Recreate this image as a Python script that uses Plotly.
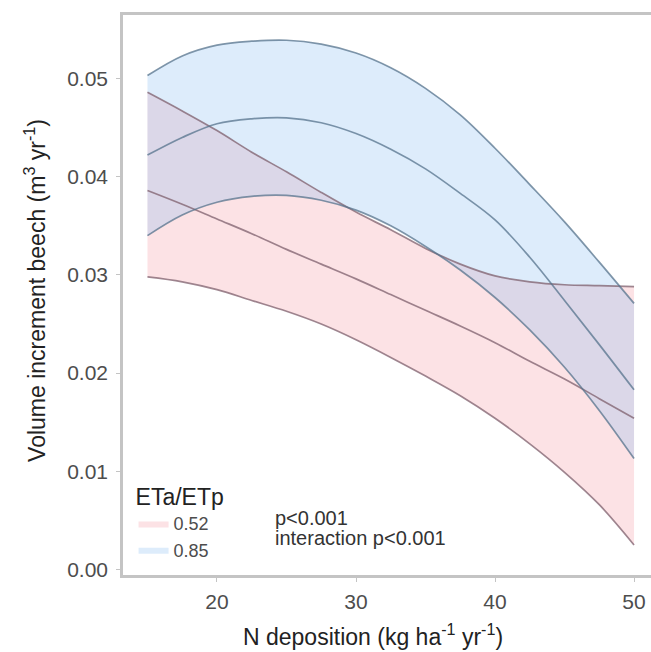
import plotly.graph_objects as go

# ---- data ----
n_dep = [15, 17.5, 20, 22.5, 25, 27.5, 30, 32.5, 35, 37.5, 40, 42.5, 45, 47.5, 50]

# ETa/ETp = 0.52 (red)
red_mean = [0.0386, 0.0372, 0.0357, 0.0342, 0.0326, 0.0311, 0.0296, 0.0280,
            0.0264, 0.0248, 0.0231, 0.0212, 0.0194, 0.0174, 0.0154]
red_lower = [0.0298, 0.0293, 0.0285, 0.0274, 0.0263, 0.0250, 0.0234, 0.0216,
             0.0197, 0.0177, 0.0154, 0.0128, 0.0099, 0.0066, 0.0025]
red_upper = [0.0486, 0.0467, 0.0447, 0.0425, 0.0405, 0.0384, 0.0364, 0.0346,
             0.0327, 0.0311, 0.0299, 0.0293, 0.0290, 0.0289, 0.0288]

# ETa/ETp = 0.85 (blue)
blue_mean = [0.0422, 0.0440, 0.0454, 0.0459, 0.0460, 0.0455, 0.0444, 0.0428,
             0.0408, 0.0383, 0.0356, 0.0318, 0.0274, 0.0229, 0.0183]
blue_lower = [0.0340, 0.0361, 0.0374, 0.0380, 0.0381, 0.0376, 0.0366, 0.0350,
              0.0329, 0.0305, 0.0277, 0.0244, 0.0206, 0.0162, 0.0113]
blue_upper = [0.0503, 0.0523, 0.0534, 0.0538, 0.0539, 0.0535, 0.0526, 0.0511,
              0.0490, 0.0463, 0.0429, 0.0392, 0.0354, 0.0313, 0.0271]

group_labels = ["0.52", "0.85"]
y_ticks = [0.00, 0.01, 0.02, 0.03, 0.04, 0.05]
x_ticks = [20, 30, 40, 50]

FONT = "Liberation Sans, Arial, sans-serif"
red_fill = "rgba(240,120,130,0.21)"
blue_fill = "rgba(130,185,240,0.27)"
red_line = "rgba(125,95,108,0.75)"
blue_line = "rgba(85,115,140,0.75)"

fig = go.Figure()

# ribbons (red first, blue on top)
for lo, up, fc, name in [(red_lower, red_upper, red_fill, group_labels[0]),
                         (blue_lower, blue_upper, blue_fill, group_labels[1])]:
    fig.add_trace(go.Scatter(x=n_dep, y=lo, mode="lines", line=dict(width=0, shape="spline"),
                             showlegend=False, hoverinfo="skip"))
    fig.add_trace(go.Scatter(x=n_dep, y=up, mode="lines", line=dict(width=0, shape="spline"),
                             fill="tonexty", fillcolor=fc, name=name,
                             showlegend=True))

# lines
for ys, lc in [(red_lower, red_line), (red_upper, red_line), (red_mean, red_line),
               (blue_lower, blue_line), (blue_upper, blue_line), (blue_mean, blue_line)]:
    fig.add_trace(go.Scatter(x=n_dep, y=ys, mode="lines",
                             line=dict(color=lc, width=1.7, shape="spline"),
                             showlegend=False))

axis_col = "#c4c4c4"
fig.update_layout(
    width=651, height=652,
    margin=dict(l=123, r=0, t=15, b=77),
    paper_bgcolor="white", plot_bgcolor="white",
    font=dict(family=FONT, color="#4d4d4d", size=20),
    xaxis=dict(range=[13.24, 51.22], tickvals=x_ticks, showgrid=False, zeroline=False,
               showline=True, linecolor=axis_col, linewidth=2.5, mirror=True,
               ticks="outside", ticklen=4, tickcolor=axis_col,
               tickfont=dict(size=21, color="#4d4d4d"), ticklabelstandoff=2),
    yaxis=dict(range=[-0.00056, 0.05647], tickvals=y_ticks, tickformat=".2f",
               showgrid=False, zeroline=False,
               showline=True, linecolor=axis_col, linewidth=2.5,
               ticks="outside", ticklen=4, tickcolor=axis_col,
               tickfont=dict(size=21, color="#4d4d4d"), ticklabelstandoff=4),
    legend=dict(x=0.02, y=0.178, xanchor="left", yanchor="top", traceorder="normal",
                bgcolor="rgba(0,0,0,0)", borderwidth=0,
                title=dict(text="ETa/ETp", font=dict(size=23, color="#222222")),
                font=dict(size=18, color="#4d4d4d"), tracegroupgap=0),
    showlegend=True,
    annotations=[
        dict(text="N deposition (kg ha<sup>-1</sup> yr<sup>-1</sup>)",
             xref="paper", yref="paper", x=0.4735, y=-0.107,
             xanchor="center", yanchor="middle", showarrow=False,
             font=dict(size=23, color="#222222")),
        dict(text="Volume increment beech (m<sup>3</sup> yr<sup>-1</sup>)",
             xref="paper", yref="paper", x=-0.1667, y=0.509, textangle=-90,
             xanchor="center", yanchor="middle", showarrow=False,
             font=dict(size=23, color="#222222")),
        dict(text="p<0.001", xref="paper", yref="paper", x=0.284, y=0.1018,
             xanchor="left", yanchor="middle", showarrow=False,
             font=dict(size=20, color="#333333")),
        dict(text="interaction p<0.001", xref="paper", yref="paper", x=0.284, y=0.066,
             xanchor="left", yanchor="middle", showarrow=False,
             font=dict(size=20, color="#333333")),
    ],
)

fig.write_html(
    "out.html",
    config={"displayModeBar": False},
    post_script="document.body.style.margin='0';document.body.style.overflow='hidden';",
)
